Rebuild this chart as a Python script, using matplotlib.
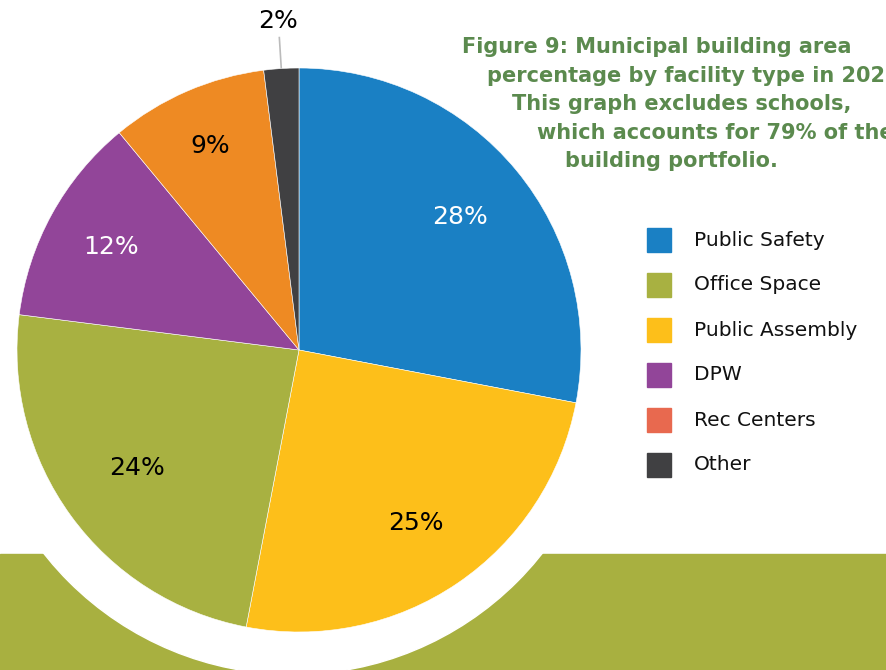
import numpy as np
import matplotlib
matplotlib.use("Agg")
import matplotlib.pyplot as plt
from matplotlib.patches import Rectangle, Circle

# ---------- data ----------
slice_names = ["Public Safety", "Public Assembly", "Office Space", "DPW", "Rec Centers", "Other"]
slice_pct = [28, 25, 24, 12, 9, 2]
slice_colors = ["#1A80C4", "#FDBF1A", "#A8B141", "#924599", "#EE8A23", "#404042"]
label_colors = ["white", "black", "black", "white", "black", "black"]

legend_names = ["Public Safety", "Office Space", "Public Assembly", "DPW", "Rec Centers", "Other"]
legend_colors = ["#1A80C4", "#A8B141", "#FDBF1A", "#924599", "#E8694F", "#404042"]

title_lines = [
    "Figure 9: Municipal building area",
    "percentage by facility type in 2020.",
    "This graph excludes schools,",
    "which accounts for 79% of the",
    "building portfolio.",
]

W, H = 886, 670
FONT = "DejaVu Sans"
TITLE_GREEN = "#5B8A4E"
BAND_GREEN = "#A8B040"

fig = plt.figure(figsize=(W / 100, H / 100), dpi=100)
ax = fig.add_axes([0, 0, 1, 1])

cx, cy, r = 299, H - 350, 282

# green band + white halo behind the pie
ax.add_patch(Rectangle((0, 0), W, H - 554, color=BAND_GREEN, zorder=0))
ax.add_patch(Circle((293, H - 357.5), 317, color="white", zorder=1))

wedges, _ = ax.pie(slice_pct, colors=slice_colors, startangle=90, counterclock=False,
                   center=(cx, cy), radius=r, frame=True,
                   wedgeprops=dict(edgecolor="white", linewidth=0.4))
for w in wedges:
    w.set_zorder(2)
ax.set_xlim(0, W)
ax.set_ylim(0, H)
ax.set_aspect("equal")
ax.axis("off")

# percentage labels
label_dist = [0.74, 0.74, 0.71, 0.76, 0.79, 1.17]
for w, p, c, d in zip(wedges, slice_pct, label_colors, label_dist):
    mid = np.deg2rad((w.theta1 + w.theta2) / 2)
    x = cx + d * r * np.cos(mid)
    y = cy + d * r * np.sin(mid)
    ax.text(x, y, f"{p}%", color=c, fontsize=18, family=FONT, ha="center", va="center", zorder=3)
    if d > 1:
        ax.plot([cx + 1.0 * r * np.cos(mid), cx + 1.11 * r * np.cos(mid)],
                [cy + 1.0 * r * np.sin(mid), cy + 1.11 * r * np.sin(mid)],
                color="#BBBBBB", lw=1.2, zorder=1.5)

# legend
for i, (name, col) in enumerate(zip(legend_names, legend_colors)):
    yy = H - (240 + 45 * i)
    ax.add_patch(Rectangle((647, yy - 12), 24, 24, color=col, zorder=3))
    ax.text(694, yy, name, fontsize=14.5, family=FONT, va="center", ha="left", color="#111111")

# title
title_x = [462, 487, 512, 537, 565]
title_y = [47, 76, 104, 133, 161]
for t, tx, ty in zip(title_lines, title_x, title_y):
    ax.text(tx, H - ty, t, fontsize=15, family=FONT, weight="bold", color=TITLE_GREEN,
            va="center", ha="left")

fig.savefig("out.png", dpi=100)
